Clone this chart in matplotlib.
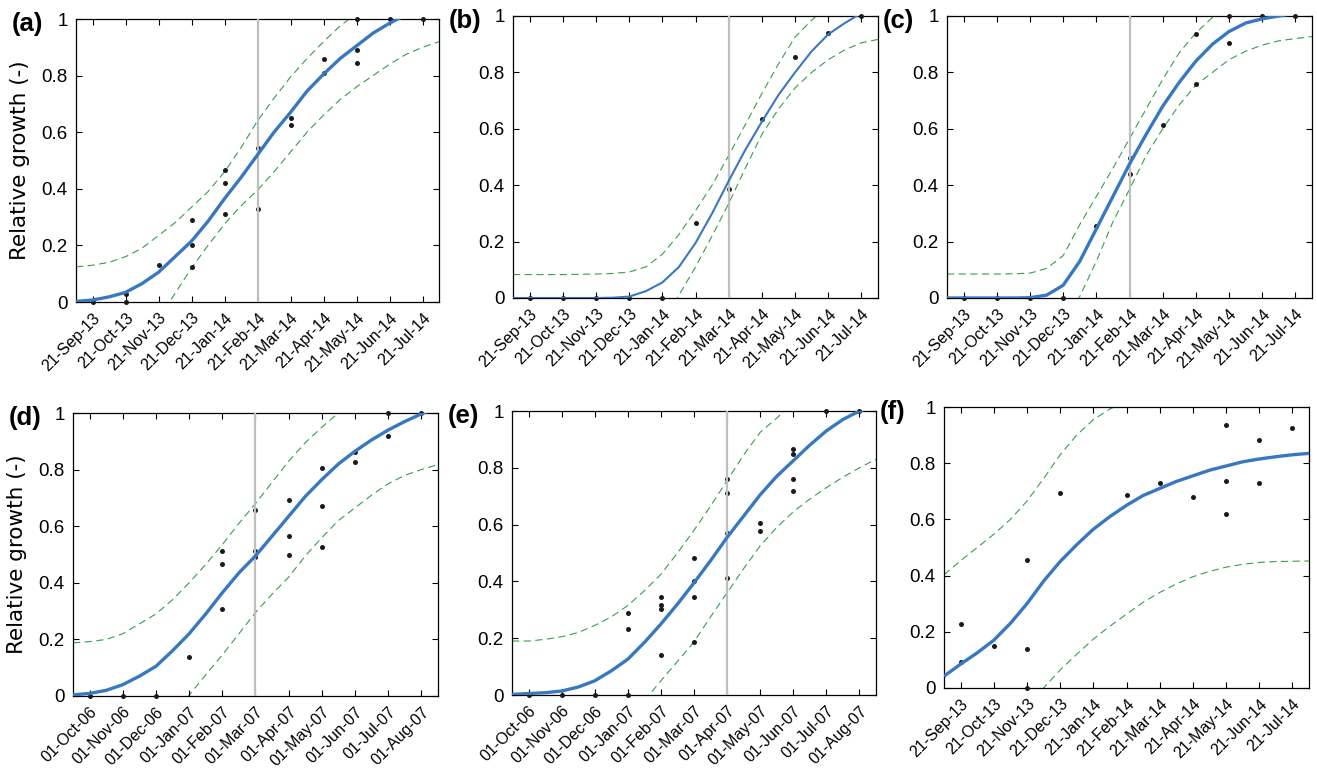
import numpy as np
import matplotlib
matplotlib.use("Agg")
import matplotlib.pyplot as plt
import matplotlib.transforms as mtransforms

plt.rcParams['font.family'] = ['Liberation Sans', 'DejaVu Sans']

nan = np.nan

# x positions of the tick categories (1..11) and the half-step grid the fits are read on
xs = np.arange(0.5, 11.75, 0.5)
ticks = np.arange(1, 12)

labels_2013 = ['21-Sep-13', '21-Oct-13', '21-Nov-13', '21-Dec-13', '21-Jan-14', '21-Feb-14',
               '21-Mar-14', '21-Apr-14', '21-May-14', '21-Jun-14', '21-Jul-14']
labels_2006 = ['01-Oct-06', '01-Nov-06', '01-Dec-06', '01-Jan-07', '01-Feb-07', '01-Mar-07',
               '01-Apr-07', '01-May-07', '01-Jun-07', '01-Jul-07', '01-Aug-07']

# ---- (a)
fit_a = [0.002, 0.007, 0.018, 0.034, 0.065, 0.105, 0.16, 0.215, 0.285, 0.365, 0.44, 0.52,
         0.60, 0.67, 0.745, 0.805, 0.86, 0.905, 0.95, 0.985, 1.015, 1.04, 1.06]
up_a = [0.124, 0.13, 0.14, 0.16, 0.19, 0.235, 0.28, 0.335, 0.39, 0.46, 0.545, 0.64,
        0.72, 0.795, 0.86, 0.92, 0.975, 1.02, 1.05, 1.08, 1.1, 1.12, 1.13]
lo_a = [nan, nan, nan, nan, nan, -0.06, 0.03, 0.12, 0.20, 0.275, 0.34, 0.395,
        0.46, 0.53, 0.60, 0.66, 0.715, 0.76, 0.80, 0.84, 0.875, 0.90, 0.92]
px_a = [1, 2, 2, 3, 4, 4, 4, 5, 5, 5, 6, 6, 7, 7, 8, 8, 9, 9, 9, 10, 11]
py_a = [0, 0.03, 0, 0.13, 0.29, 0.20, 0.124, 0.465, 0.42, 0.31, 0.545, 0.33, 0.65, 0.627,
        0.86, 0.81, 1.0, 0.89, 0.845, 1.0, 1.0]

# ---- (b)
fit_b = [0, 0, 0, 0, 0, 0, 0.001, 0.005, 0.024, 0.055, 0.11, 0.195,
         0.30, 0.415, 0.525, 0.625, 0.72, 0.80, 0.875, 0.935, 0.975, 1.01, 1.04]
up_b = [0.083, 0.083, 0.083, 0.083, 0.084, 0.085, 0.087, 0.092, 0.11, 0.155, 0.225, 0.31,
        0.40, 0.505, 0.615, 0.725, 0.83, 0.925, 0.985, 1.04, 1.08, 1.1, 1.12]
lo_b = [nan, nan, nan, nan, nan, nan, nan, nan, nan, -0.09, 0.01, 0.11,
        0.22, 0.335, 0.46, 0.58, 0.67, 0.745, 0.80, 0.845, 0.88, 0.905, 0.917]
px_b = [1, 2, 3, 4, 5, 6, 7, 8, 9, 10, 11]
py_b = [0, 0, 0, 0, 0, 0.265, 0.385, 0.635, 0.855, 0.94, 1.0]

# ---- (c)
fit_c = [0, 0, 0, 0, 0, 0.001, 0.01, 0.045, 0.13, 0.245, 0.36, 0.475,
         0.58, 0.68, 0.765, 0.84, 0.90, 0.945, 0.975, 0.99, 1.0, 1.01, 1.02]
up_c = [0.085, 0.085, 0.085, 0.085, 0.086, 0.088, 0.105, 0.15, 0.26, 0.36, 0.46, 0.565,
        0.67, 0.775, 0.87, 0.94, 0.995, 1.03, 1.05, 1.07, 1.08, 1.09, 1.1]
lo_c = [nan, nan, nan, nan, nan, nan, nan, -0.08, 0.005, 0.13, 0.27, 0.385,
        0.505, 0.60, 0.685, 0.755, 0.80, 0.845, 0.875, 0.897, 0.912, 0.92, 0.927]
px_c = [1, 2, 3, 4, 5, 6, 6, 7, 8, 8, 9, 9, 10, 11]
py_c = [0, 0, 0, 0, 0.255, 0.495, 0.44, 0.615, 0.935, 0.76, 1.0, 0.905, 1.0, 1.0]

# ---- (d)
fit_d = [0.004, 0.009, 0.02, 0.04, 0.07, 0.105, 0.16, 0.22, 0.29, 0.365, 0.435, 0.495,
         0.565, 0.635, 0.705, 0.765, 0.82, 0.865, 0.905, 0.94, 0.97, 0.997, 1.02]
up_d = [0.188, 0.192, 0.20, 0.22, 0.255, 0.29, 0.34, 0.40, 0.465, 0.535, 0.61, 0.68,
        0.755, 0.83, 0.895, 0.95, 1.0, 1.04, 1.07, 1.1, 1.12, 1.13, 1.14]
lo_d = [nan, nan, nan, nan, nan, nan, -0.07, 0.003, 0.075, 0.145, 0.22, 0.295,
        0.36, 0.42, 0.495, 0.56, 0.62, 0.665, 0.71, 0.75, 0.78, 0.80, 0.818]
px_d = [1, 2, 3, 4, 5, 5, 5, 6, 6, 6, 7, 7, 7, 8, 8, 8, 9, 9, 10, 10, 11]
py_d = [0, 0, 0, 0.138, 0.514, 0.465, 0.307, 0.659, 0.514, 0.49, 0.694, 0.564, 0.50,
        0.804, 0.673, 0.528, 0.862, 0.826, 1.0, 0.918, 1.0]

# ---- (e)
fit_e = [0.002, 0.005, 0.008, 0.014, 0.028, 0.05, 0.085, 0.126, 0.185, 0.25, 0.32, 0.395,
         0.473, 0.555, 0.63, 0.705, 0.77, 0.825, 0.88, 0.93, 0.97, 1.0, 1.02]
up_e = [0.19, 0.19, 0.196, 0.205, 0.22, 0.245, 0.275, 0.315, 0.367, 0.425, 0.50, 0.58,
        0.665, 0.755, 0.845, 0.925, 0.975, 1.03, 1.07, 1.1, 1.12, 1.13, 1.14]
lo_e = [nan, nan, nan, nan, nan, nan, nan, nan, -0.02, 0.05, 0.118, 0.187,
        0.275, 0.36, 0.445, 0.525, 0.59, 0.645, 0.69, 0.73, 0.767, 0.80, 0.83]
px_e = [1, 2, 3, 4, 4, 4, 5, 5, 5, 5, 6, 6, 6, 6, 7, 7, 7, 7, 8, 8, 9, 9, 9, 9, 10, 11]
py_e = [0, 0, 0, 0.29, 0.232, 0, 0.344, 0.318, 0.302, 0.142, 0.481, 0.402, 0.344, 0.187,
        0.761, 0.712, 0.572, 0.413, 0.607, 0.578, 0.867, 0.849, 0.761, 0.72, 1.0, 1.0]

# ---- (f)
fit_f = [0.042, 0.085, 0.125, 0.17, 0.23, 0.30, 0.38, 0.45, 0.51, 0.565, 0.61, 0.65,
         0.685, 0.71, 0.735, 0.755, 0.775, 0.79, 0.805, 0.815, 0.823, 0.83, 0.835]
up_f = [0.403, 0.453, 0.50, 0.547, 0.60, 0.665, 0.745, 0.83, 0.90, 0.955, 0.993, 1.02,
        1.05, 1.07, 1.09, 1.1, 1.1, 1.1, 1.1, 1.1, 1.1, 1.1, 1.1]
lo_f = [nan, nan, nan, nan, nan, -0.07, 0.0, 0.064, 0.12, 0.174, 0.22, 0.263,
        0.305, 0.34, 0.37, 0.396, 0.415, 0.43, 0.44, 0.447, 0.45, 0.451, 0.452]
px_f = [1, 1, 2, 3, 3, 3, 4, 6, 7, 8, 9, 9, 9, 10, 10, 11]
py_f = [0.227, 0.094, 0.148, 0.457, 0.139, 0, 0.695, 0.687, 0.729, 0.678, 0.935, 0.736,
        0.62, 0.883, 0.731, 0.925]

# vertical marker (category index), None = no line
vline = {'a': 6, 'b': 7, 'c': 6, 'd': 6, 'e': 7, 'f': None}

panels = [
    ('a', fit_a, up_a, lo_a, px_a, py_a, labels_2013, (76, 19, 439, 302), 2.4, True),
    ('b', fit_b, up_b, lo_b, px_b, py_b, labels_2013, (513, 16, 878, 298), 1.5, False),
    ('c', fit_c, up_c, lo_c, px_c, py_c, labels_2013, (947, 16, 1312, 298), 2.4, False),
    ('d', fit_d, up_d, lo_d, px_d, py_d, labels_2006, (73, 413, 438, 696), 2.4, True),
    ('e', fit_e, up_e, lo_e, px_e, py_e, labels_2006, (512, 411, 876, 695), 2.4, False),
    ('f', fit_f, up_f, lo_f, px_f, py_f, labels_2013, (944, 407, 1309, 688), 2.4, False),
]

W, H = 1317, 768
fig = plt.figure(figsize=(W / 100, H / 100), dpi=100)

blue = '#3878c0'
green = '#33a04a'
grey = '#bfbfbf'

for key, fit, up, lo, px, py, xlabels, box, lw, ylab in panels:
    l, t, r, b = box
    ax = fig.add_axes([l / W, 1 - b / H, (r - l) / W, (b - t) / H])

    ax.plot(xs, up, '--', color=green, lw=0.8, dashes=(6.5, 4), zorder=1)
    ax.plot(xs, lo, '--', color=green, lw=0.8, dashes=(6.5, 4), zorder=1)
    ax.plot(px, py, 'o', color='#1a1a1a', ms=3.6, mew=0, zorder=3, clip_on=False)
    if vline[key] is not None:
        ax.axvline(vline[key], color=grey, lw=1.6, zorder=4)
    ax.plot(xs, fit, '-', color=blue, lw=lw, zorder=5, solid_capstyle='butt')

    ax.set_xlim(0.5, 11.5)
    ax.set_ylim(0, 1)
    ax.set_xticks(ticks)
    ax.set_yticks([0, 0.2, 0.4, 0.6, 0.8, 1])
    ax.set_yticklabels(['0', '0.2', '0.4', '0.6', '0.8', '1'], fontsize=13.5)
    ax.set_xticklabels(xlabels, fontsize=11.5, rotation=45, ha='right', va='top',
                       rotation_mode='anchor')
    offset = mtransforms.ScaledTranslation(7 / 72, -2 / 72, fig.dpi_scale_trans)
    for lab in ax.get_xticklabels():
        lab.set_transform(lab.get_transform() + offset)
    ax.tick_params(direction='in', length=4, width=0.8, top=True, right=True,
                   pad=6)
    ax.tick_params(axis='y', pad=6)
    for s in ax.spines.values():
        s.set_linewidth(0.9)

    if ylab:
        ax.set_ylabel('Relative growth (-)', fontsize=15.5, family='DejaVu Sans',
                      labelpad=8)

    fig.text((l - 64) / W, 1 - (t + 5) / H, '(%s)' % key, fontsize=18.5,
             fontweight='bold', ha='left', va='center')

fig.savefig('out.png', dpi=100)
